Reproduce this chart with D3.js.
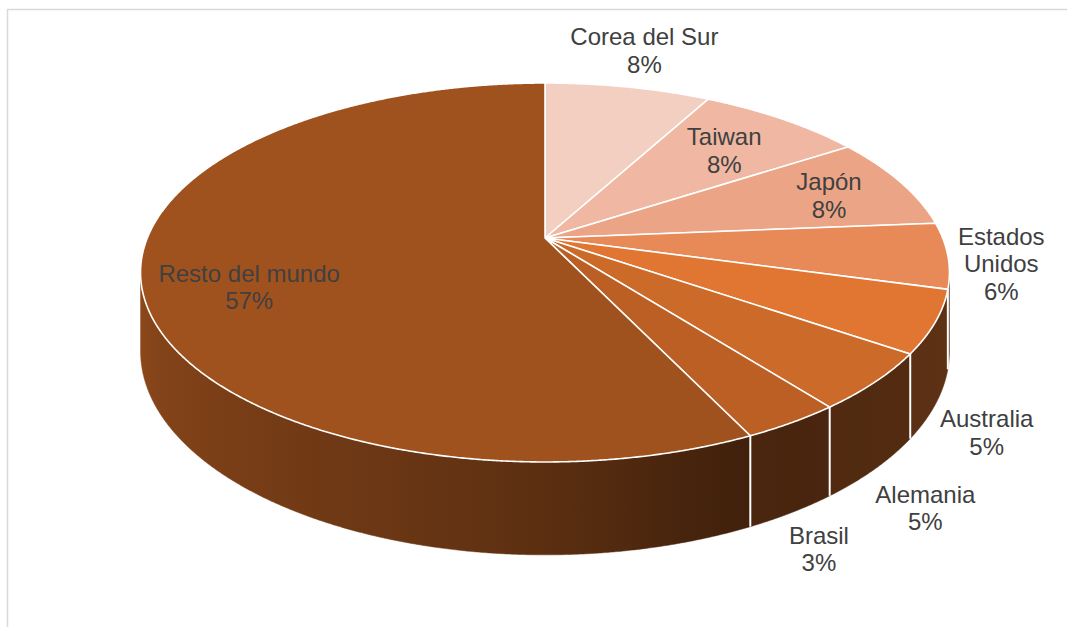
<!DOCTYPE html>
<html>
<head>
<meta charset="utf-8">
<script src="https://cdn.jsdelivr.net/npm/d3@7"></script>
<style>
  html, body { margin: 0; padding: 0; background: #fff; }
  svg { display: block; font-family: "Liberation Sans", Arial, sans-serif; }
</style>
</head>
<body>
<div id="chart"></div>
<script>
// Data
const countries = ["Corea del Sur", "Taiwan", "Japón", "Estados Unidos", "Australia", "Alemania", "Brasil", "Resto del mundo"];
const shares = [7.9, 7.9, 7.9, 5.6, 5.3, 4.9, 3.4, 57.1];
const colors = ["#f2cfc1", "#f0b8a2", "#eba586", "#e88a58", "#e07631", "#cc6b29", "#bb5f25", "#a0521e"];

// label placement: radius factor along the slice middle, vertical nudge, anchor on the base rim
const labelPlace = [
  { r: 1.24, dy: -7, base: false },
  { r: 0.73, dy: 2, base: false },
  { r: 0.79, dy: 2, base: false },
  { r: 1.13, dy: 6, base: false },
  { r: 1.12, dy: 16, base: true },
  { r: 1.13, dy: 16, base: true },
  { r: 1.09, dy: 15, base: true },
  { r: 0.74, dy: 18, base: false }
];
const wrapNames = new Set(["Estados Unidos"]);

const W = 1067, H = 627;
const cx = 545, cy = 238;      // pie centre on screen
const RX = 397.7, RY = 183.2;  // projected radii
const K = 0.182;               // perspective strength
const DEPTH = 76;              // side height
const FONT = 24, LH = 27.6;

const svg = d3.select("#chart").append("svg")
  .attr("width", W)
  .attr("height", H);

// chart area border (only the top and left edges fall inside the picture)
svg.append("path")
  .attr("d", `M7.5,${H + 5}V9.5H${W + 5}`)
  .attr("fill", "none")
  .attr("stroke", "#d9d9d9")
  .attr("stroke-width", 1.5);

// perspective projection of a point on the pie disk
function proj(ang, r, h = 0) {
  const a = r * Math.sin(ang), b = -r * Math.cos(ang);
  const w = 1 - K * b;
  return [cx + RX * a / w, cy + RY * b / w + h / w];
}

function arcPts(a0, a1, r, h) {
  const n = Math.max(2, Math.ceil(Math.abs(a1 - a0) / (Math.PI / 720)));
  return d3.range(n + 1).map(i => proj(a0 + (a1 - a0) * i / n, r, h));
}

const pie = d3.pie().sort(null).value(d => d);
const arcs = pie(shares);
const total = d3.sum(shares);
const pct = d3.format(".0%");

const line = d3.line();
const defs = svg.append("defs");

// visible part of the outer wall lies between the two silhouette angles
const silR = Math.acos(-K), silL = 2 * Math.PI - silR;

// wall shading as a function of angle (degrees)
const shade = d3.scaleLinear()
  .domain([100, 150, 160, 180, 200, 230, 260])
  .range([0.42, 0.39, 0.42, 0.57, 0.67, 0.78, 0.88])
  .clamp(true);

const sides = svg.append("g");
arcs.forEach((d, i) => {
  const s = Math.max(d.startAngle, silR), e = Math.min(d.endAngle, silL);
  if (e <= s) return;
  const top = arcPts(s, e, 1, 0);
  const bot = arcPts(e, s, 1, DEPTH);
  const x1 = proj(s, 1)[0], x2 = proj(e, 1)[0];
  const gid = "side" + i;
  const grad = defs.append("linearGradient")
    .attr("id", gid)
    .attr("gradientUnits", "userSpaceOnUse")
    .attr("x1", x1).attr("y1", 0)
    .attr("x2", x2).attr("y2", 0);
  const base = d3.rgb(colors[i]);
  const nStops = 12;
  d3.range(nStops + 1).forEach(j => {
    const ang = s + (e - s) * j / nStops;
    const f = shade(ang * 180 / Math.PI);
    const x = proj(ang, 1)[0];
    grad.append("stop")
      .attr("offset", x2 === x1 ? 0 : (x - x1) / (x2 - x1))
      .attr("stop-color", d3.rgb(base.r * f, base.g * f, base.b * f).formatHex());
  });
  sides.append("path")
    .attr("d", line(top.concat(bot)) + "Z")
    .attr("fill", `url(#${gid})`)
    .attr("stroke", `url(#${gid})`)
    .attr("stroke-width", 0.5);
});

// white seams between slices on the wall
arcs.forEach(d => {
  const ang = d.startAngle;
  if (ang <= silR || ang >= silL) return;
  sides.append("path")
    .attr("d", line([proj(ang, 1, 0), proj(ang, 1, DEPTH)]))
    .attr("stroke", "#fff")
    .attr("stroke-width", 2);
});

// top faces
svg.append("g")
  .selectAll("path")
  .data(arcs)
  .join("path")
    .attr("d", d => line([[cx, cy]].concat(arcPts(d.startAngle, d.endAngle, 1, 0))) + "Z")
    .attr("fill", (d, i) => colors[i])
    .attr("stroke", "#fff")
    .attr("stroke-width", 1.6)
    .attr("stroke-linejoin", "round");

// labels
const labels = svg.append("g")
  .attr("font-size", FONT)
  .attr("fill", "#404040")
  .attr("text-anchor", "middle");

arcs.forEach((d, i) => {
  const p = labelPlace[i];
  const mid = (d.startAngle + d.endAngle) / 2;
  const b = -p.r * Math.cos(mid);
  const w = 1 - K * b;
  const [x, y0] = proj(mid, p.r, p.base ? DEPTH : 0);
  const name = countries[i];
  const lines = (wrapNames.has(name) ? name.split(" ") : [name]).concat(pct(shares[i] / total));
  const yc = y0 + p.dy;
  const t = labels.append("text");
  lines.forEach((s, j) => {
    t.append("tspan")
      .attr("x", x)
      .attr("y", yc + (j - (lines.length - 1) / 2) * LH + FONT * 0.358)
      .text(s);
  });
});
</script>
</body>
</html>
